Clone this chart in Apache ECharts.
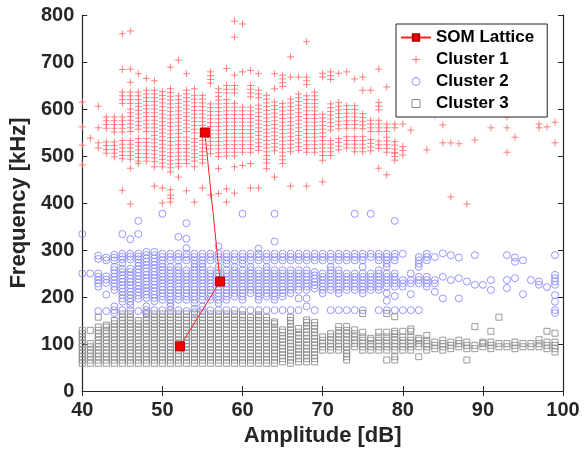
<!DOCTYPE html>
<html>
<head>
<meta charset="utf-8">
<script src="https://cdn.jsdelivr.net/npm/echarts@6/dist/echarts.min.js"></script>
<style>html,body{margin:0;padding:0;background:#fff;}#c{width:588px;height:455px;}</style>
</head>
<body>
<div id="c"></div>
<script>
const xTicks = [40, 50, 60, 70, 80, 90, 100];
const yTicks = [0, 100, 200, 300, 400, 500, 600, 700, 800];
const seriesNames = ['SOM Lattice', 'Cluster 1', 'Cluster 2', 'Cluster 3'];

const somLattice = [[55.3, 550], [57.2, 233], [52.2, 95]];

const cluster1Cols = [
 [40,[615,562,523,481]],
 [41,[538]],
 [42,[606,560,528,517]],
 [43,[583,575,567,559,530,522,514,506]],
 [44,[583,575,567,559,551,530,522,514,506,498]],
 [45,[760,684,636,628,620,612,583,575,567,559,551,533,525,517,509,501,494,427]],
 [46,[766,685,657,636,628,620,612,600,592,584,576,568,560,552,533,525,517,509,501,493,474,398]],
 [47,[675,636,628,620,612,605,597,589,581,573,565,557,537,529,521,513,505,497,489,484]],
 [48,[665,640,632,624,616,608,600,592,584,576,568,560,552,537,529,521,513,505,497,489]],
 [49,[660,640,632,624,616,608,600,592,584,576,568,560,552,544,536,528,520,512,504,496,488,477,436]],
 [50,[637,629,621,613,605,597,589,581,573,565,557,549,541,533,525,517,509,501,493,485,477,432,400]],
 [51,[689,643,635,627,619,611,603,595,587,579,571,563,555,547,539,531,523,515,507,499,491,483,475,466,428,417,410,402]],
 [52,[704,628,620,612,604,596,588,580,572,564,556,548,540,532,524,516,508,500,492,484,477,455]],
 [53,[675,640,632,624,616,608,600,592,584,576,568,560,552,540,532,524,516,508,500,492,484,426]],
 [54,[643,629,621,613,605,597,589,581,573,565,557,549,537,529,521,513,505,497,489,477,402]],
 [55,[629,621,613,605,597,589,581,573,565,557,549,541,533,525,517,509,501,493,485,432]],
 [56,[679,671,663,655,611,603,595,587,579,571,563,555,547,539,531,523,515,505,417]],
 [57,[643,635,627,619,611,603,595,587,579,571,563,555,547,539,531,523,515,507,499,473,420]],
 [58,[686,650,642,634,620,612,604,596,588,580,572,564,556,548,540,532,524,516,508,500,430,402]],
 [59,[787,753,672,650,642,634,612,604,596,588,580,572,564,556,548,540,532,524,516,508,500,477,421]],
 [60,[781,679,604,596,588,580,572,564,556,548,540,532,524,516,508,480]],
 [61,[682,650,642,634,626,604,596,588,580,572,564,556,548,540,532,524,516,508,484,432]],
 [62,[675,640,632,624,608,600,592,584,576,568,560,552,544,536,528,520,512,432]],
 [63,[629,621,613,605,597,589,581,573,565,557,549,541,533,525,517,509,501,493,485,473]],
 [64,[675,643,615,607,599,591,583,575,567,559,551,543,535,527,519,511,455]],
 [65,[672,664,656,648,612,604,596,588,580,572,564,556,548,540,532,524,516,508,500,492,484]],
 [66,[711,668,621,613,605,597,589,581,573,565,557,549,541,533,525,517,509,436]],
 [67,[668,632,624,616,608,600,592,584,576,568,560,552,544,536,528,520,512]],
 [68,[743,668,660,652,628,620,612,604,596,588,580,572,564,556,548,540,532,524,516,508,436]],
 [69,[636,628,620,612,604,596,588,580,572,564,556,548,540,532,524,516,508]],
 [70,[676,668,589,581,573,565,557,549,541,533,525,517,509,501,491,445]],
 [71,[679,671,663,611,603,595,587,579,571,563,555,533,525,517,509,501]],
 [72,[676,614,606,598,590,582,574,566,558,537,529,521,513]],
 [73,[679,607,599,591,583,575,567,559,541,533,525,517]],
 [74,[664,607,599,591,583,575,567,559,541,533,525,517,509]],
 [75,[668,640,590,582,574,566,558,541,533,525,517,509]],
 [76,[640,576,568,560,552,535,527,519,511]],
 [77,[685,614,606,598,576,568,560,552,532,524,516,474]],
 [78,[647,568,560,552,540,532,524,516,508,460]],
 [79,[568,560,531,523,515,507,499,491,506]],
 [80,[618,568,520,512,502]],
 [81,[555]],
 [83,[513]],
 [84,[587]],
 [85,[566,528]],
 [86,[528,413]],
 [87,[526]],
 [88,[398]],
 [89,[534]],
 [91,[560]],
 [93,[583,560,508]],
 [94,[540]],
 [97,[568,560]],
 [98,[562]],
 [99,[572,528]]
];

const cluster2Cols = [
 [40,[334,250]],
 [41,[250]],
 [42,[288,281,250,243,236,229,222,170]],
 [43,[284,278,244,237,230,205,170]],
 [44,[290,284,278,264,257,250,243,236,229,222,215,180,172,166]],
 [45,[334,292,286,280,272,260,253,246,239,232,225,218,211,204,197,190,172]],
 [46,[323,292,286,280,260,253,246,239,232,225,218,211,204,197,190,183,172]],
 [47,[362,334,292,286,280,273,266,259,252,245,238,231,224,217,210,203,196,170]],
 [48,[296,289,282,275,268,261,254,247,240,233,226,219,212,205,198,180,172,166]],
 [49,[296,289,282,275,268,261,254,247,240,233,226,219,212,205,198,191,172]],
 [50,[377,292,285,278,271,264,257,250,243,236,229,222,215,208,201,194,172]],
 [51,[292,285,278,264,257,250,243,236,229,222,215,208,201,194,187,180,172]],
 [52,[328,292,285,278,264,257,250,243,236,229,222,215,208,201,194,172]],
 [53,[357,324,304,292,285,278,257,250,243,236,229,222,215,208,201,194,170]],
 [54,[292,285,278,271,264,257,250,243,236,229,222,215,208,201,194,187,175,168]],
 [55,[292,285,278,271,264,257,250,243,236,229,222,215,208,201,194,180,172]],
 [56,[292,285,278,257,250,243,236,229,222,215,208,201,194,172]],
 [57,[308,292,285,278,264,257,250,243,236,229,222,215,208,201,194,187,172]],
 [58,[292,285,278,271,257,250,243,236,229,222,215,208,201,194,172]],
 [59,[292,285,278,264,257,250,243,236,229,222,215,208,201,172]],
 [60,[377,292,285,278,271,257,250,243,236,229,222,215,208,201,194,172]],
 [61,[292,285,278,264,257,250,243,236,229,222,215,208,172]],
 [62,[303,292,285,278,257,250,243,236,229,222,215,208,201,194,172]],
 [63,[292,285,278,264,257,250,243,236,229,222,215,208,201,172]],
 [64,[377,318,292,285,278,257,250,243,236,229,222,215,208,201,194,172]],
 [65,[292,285,278,257,250,243,236,229,222,215,208,201,172]],
 [66,[292,285,278,257,250,243,236,229,222,215,208,172]],
 [67,[292,285,278,257,250,243,236,229,222,215,197,172]],
 [68,[292,285,278,257,250,243,236,229,222,215,197,180]],
 [69,[292,285,278,253,246,239,232,225,218,172]],
 [70,[292,285,278,250,243,236,229,222,215,208]],
 [71,[292,285,278,264,257,250,243,236,229,222,215,172]],
 [72,[292,285,278,257,250,243,236,229,222,215,208,172]],
 [73,[292,285,278,250,243,236,229,222,215,172]],
 [74,[377,292,285,278,250,243,236,229,222,215,172]],
 [75,[292,285,278,264,250,243,236,229,222,215,208,172]],
 [76,[377,292,285,250,243,236,229,222,215]],
 [77,[292,285,278,257,250,243,236,229,222,215,172]],
 [78,[292,285,278,271,264,250,243,236,229,222,208,192,172]],
 [79,[362,292,285,278,250,243,236,229,222,202,172]],
 [80,[292,236,229,222,172]],
 [81,[250,236,229,206,172]],
 [82,[285,278,271,264,243,236,229,172]],
 [83,[292,285,278,243,236,229,222]],
 [84,[285,236,229,211]],
 [85,[293,243,197]],
 [86,[289,236]],
 [87,[284,240,197]],
 [88,[233]],
 [89,[289,226]],
 [90,[226]],
 [91,[236,215]],
 [93,[289,236,219]],
 [94,[284,275,240]],
 [95,[278,206]],
 [96,[236]],
 [97,[233,226]],
 [98,[221]],
 [99,[289,247,240,233,226,204,190,172,166]]
];

const cluster3Cols = [
 [40,[59,66,73,80,87,94,101,108,115,122,129]],
 [41,[59,66,73,80,87,94,101,129]],
 [42,[59,66,73,80,87,94,101,108,115,122,129,136,157]],
 [43,[59,66,73,80,87,94,101,108,115,122,129,136,140]],
 [44,[59,66,73,80,87,94,101,108,115,122,129,136,143,150]],
 [45,[59,66,73,80,87,94,101,108,115,122,129,136,143,150,157,164]],
 [46,[59,66,73,80,87,94,101,108,115,122,129,136,143,150,157,164]],
 [47,[59,66,73,80,87,94,101,108,115,122,129,136,143,150]],
 [48,[59,66,73,80,87,94,101,108,115,122,129,136,143,150,157,164]],
 [49,[59,66,73,80,87,94,101,108,115,122,129,136,143,150,157,164]],
 [50,[59,66,73,80,87,94,101,108,115,122,129,136,143,150,157,164]],
 [51,[59,66,73,80,87,94,101,108,115,122,129,136,143,150,157,164]],
 [52,[59,66,73,80,87,94,101,108,115,122,129,136,143,150,157,164]],
 [53,[59,66,73,80,87,94,101,108,115,122,129,136,143,150,157,164]],
 [54,[59,66,73,80,87,94,101,108,115,122,129,136,143,150,157,164]],
 [55,[59,66,73,80,87,94,101,108,115,122,129,136,143,150,157,164]],
 [56,[59,66,73,80,87,94,101,108,115,122,129,136,143,150,157,164]],
 [57,[59,66,73,80,87,94,101,108,115,122,129,136,143,150,157,164]],
 [58,[59,66,73,80,87,94,101,108,115,122,129,136,143,150,157,164]],
 [59,[59,66,73,80,87,94,101,108,115,122,129,136,143,150,157,164]],
 [60,[59,66,73,80,87,94,101,108,115,122,129,136,143,150,157,162]],
 [61,[59,66,73,80,87,94,101,108,115,122,129,136,143,150,157]],
 [62,[59,66,73,80,87,94,101,108,115,122,129,136,143,150,157,162]],
 [63,[59,66,73,80,87,94,101,108,115,122,129,136,143,150,157]],
 [64,[59,66,73,80,87,94,101,108,115,122,129,136,143,147]],
 [65,[62,69,76,83,90,97,104,111,118,125,130]],
 [66,[59,66,73,80,87,94,101,108,115,122,129,136,143,150,157]],
 [67,[62,69,76,83,90,97,104,111,118,125,133]],
 [68,[62,69,76,83,90,97,104,111,118,125,132,139,146,151]],
 [69,[62,69,76,83,90,97,104,111,118,125,132,139,146]],
 [70,[87,94,101,108,115]],
 [71,[87,94,101,108,115,122]],
 [72,[87,94,101,108,115,122,129,137]],
 [73,[66,73,80,87,94,101,108,115,122,129,137]],
 [74,[94,101,108,115,122,130]],
 [75,[165,87,94,101,108,115,125]],
 [76,[87,94,101,108,112]],
 [77,[87,94,101,108,115,125]],
 [78,[165,66,87,94,101,108,115,125]],
 [79,[158,66,73,87,94,101,108,115,122,127]],
 [80,[87,94,101,108,115,127]],
 [81,[87,94,101,108,115,127,132]],
 [82,[73,94,101,108,112]],
 [83,[87,94,101,108,118]],
 [84,[90,97,104]],
 [85,[87,94,101,108]],
 [86,[90,97,104]],
 [87,[94,101,108]],
 [88,[66,90,97,104]],
 [89,[137,90,97]],
 [90,[94,101,104]],
 [91,[127,90,97,104]],
 [92,[157,94,101]],
 [93,[94,101]],
 [94,[90,97,104]],
 [95,[94,101]],
 [96,[94,101]],
 [97,[109,94,101]],
 [98,[127,90,97,104]],
 [99,[123,83,90,97,104]]
];

function flatten(cols) {
  const out = [];
  cols.forEach(function (c) { c[1].forEach(function (f) { out.push([c[0], f]); }); });
  return out;
}

const plusPath = 'path://M0,5L10,5M5,0L5,10';
const squarePath = 'path://M0,0L10,0L10,10L0,10Z';
const FONT = '"Liberation Sans", Arial, sans-serif';
const axisColor = '#262626';

const chart = echarts.init(document.getElementById('c'), null, {renderer: 'canvas'});
chart.setOption({
  animation: false,
  backgroundColor: '#ffffff',
  grid: {left: 79, right: 25, top: 15, bottom: 64, containLabel: false},
  legend: {
    orient: 'vertical',
    left: 396, top: 24,
    padding: [5, 13, 5, 4],
    itemGap: 5,
    itemWidth: 30, itemHeight: 8,
    borderColor: '#262626', borderWidth: 1,
    backgroundColor: '#ffffff',
    textStyle: {fontFamily: FONT, fontWeight: 'bold', fontSize: 17, color: '#000'},
    data: [
      {name: seriesNames[0]},
      {name: seriesNames[1], icon: plusPath, itemStyle: {color: 'transparent', borderColor: '#ff5c5c', borderWidth: 1}},
      {name: seriesNames[2], icon: 'circle', itemStyle: {color: 'transparent', borderColor: '#8080ff', borderWidth: 1}},
      {name: seriesNames[3], icon: squarePath, itemStyle: {color: 'transparent', borderColor: '#777777', borderWidth: 1}}
    ],
    z: 20
  },
  xAxis: [{
    type: 'value', min: xTicks[0], max: xTicks[xTicks.length - 1], interval: 10,
    name: 'Amplitude [dB]', nameLocation: 'middle', nameGap: 33,
    nameTextStyle: {fontFamily: FONT, fontWeight: 'bold', fontSize: 22, color: '#262626'},
    axisLine: {lineStyle: {color: axisColor, width: 1.2}},
    axisTick: {inside: true, length: 5, lineStyle: {color: axisColor}},
    axisLabel: {fontFamily: FONT, fontWeight: 'bold', fontSize: 20, color: '#262626', margin: 9},
    splitLine: {show: false}
  }, {
    type: 'value', position: 'top', min: xTicks[0], max: xTicks[xTicks.length - 1], interval: 10,
    axisLine: {lineStyle: {color: axisColor, width: 1.2}},
    axisTick: {inside: true, length: 5, lineStyle: {color: axisColor}},
    axisLabel: {show: false}, splitLine: {show: false}
  }],
  yAxis: [{
    type: 'value', min: yTicks[0], max: yTicks[yTicks.length - 1], interval: 100,
    name: 'Frequency [kHz]', nameLocation: 'middle', nameGap: 42, nameRotate: 90,
    nameTextStyle: {fontFamily: FONT, fontWeight: 'bold', fontSize: 22, color: '#262626'},
    axisLine: {lineStyle: {color: axisColor, width: 1.2}},
    axisTick: {inside: true, length: 5, lineStyle: {color: axisColor}},
    axisLabel: {fontFamily: FONT, fontWeight: 'bold', fontSize: 20, color: '#262626', margin: 8},
    splitLine: {show: false}
  }, {
    type: 'value', position: 'right', min: yTicks[0], max: yTicks[yTicks.length - 1], interval: 100,
    axisLine: {show: true, lineStyle: {color: axisColor, width: 1.2}},
    axisTick: {inside: true, length: 5, lineStyle: {color: axisColor}},
    axisLabel: {show: false}, splitLine: {show: false}
  }],
  series: [
    {
      name: seriesNames[0], type: 'line', data: somLattice, z: 10,
      symbol: 'rect', symbolSize: 9, showSymbol: true,
      lineStyle: {color: '#ff2020', width: 1},
      itemStyle: {color: '#ee0000', borderColor: '#b00000', borderWidth: 1}
    },
    {
      name: seriesNames[1], type: 'scatter', data: flatten(cluster1Cols), z: 3,
      symbol: plusPath, symbolSize: 7,
      itemStyle: {color: 'transparent', borderColor: '#ff6b6b', borderWidth: 1, opacity: 0.85}
    },
    {
      name: seriesNames[2], type: 'scatter', data: flatten(cluster2Cols), z: 3,
      symbol: 'circle', symbolSize: 7,
      itemStyle: {color: 'transparent', borderColor: '#8585ff', borderWidth: 1, opacity: 0.85}
    },
    {
      name: seriesNames[3], type: 'scatter', data: flatten(cluster3Cols), z: 3,
      symbol: 'rect', symbolSize: 6,
      itemStyle: {color: 'transparent', borderColor: '#8a8a8a', borderWidth: 1, opacity: 0.85}
    }
  ]
});
</script>
</body>
</html>
